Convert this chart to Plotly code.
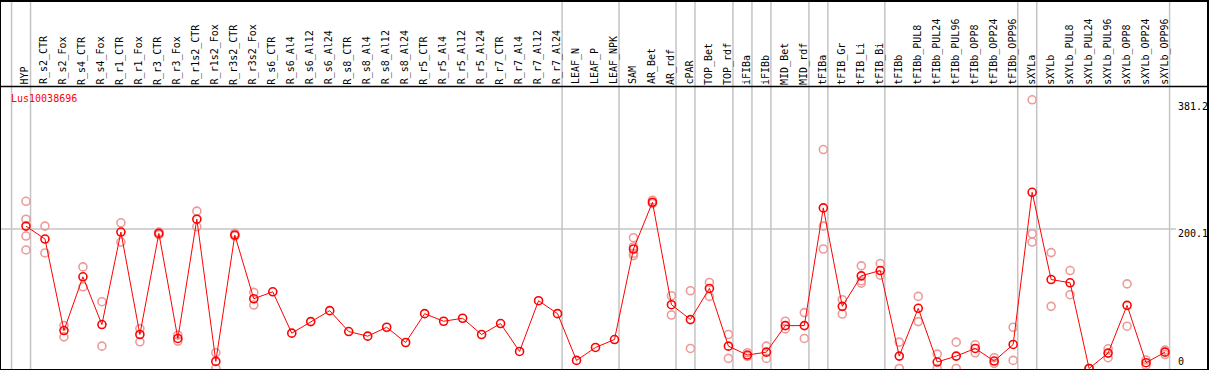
import plotly.graph_objects as go

categories = [
    "HYP", "R_s2_CTR", "R_s2_Fox", "R_s4_CTR", "R_s4_Fox", "R_r1_CTR", "R_r1_Fox",
    "R_r3_CTR", "R_r3_Fox", "R_r1s2_CTR", "R_r1s2_Fox", "R_r3s2_CTR", "R_r3s2_Fox",
    "R_s6_CTR", "R_s6_Al4", "R_s6_Al12", "R_s6_Al24", "R_s8_CTR", "R_s8_Al4",
    "R_s8_Al12", "R_s8_Al24", "R_r5_CTR", "R_r5_Al4", "R_r5_Al12", "R_r5_Al24",
    "R_r7_CTR", "R_r7_Al4", "R_r7_Al12", "R_r7_Al24", "LEAF_N", "LEAF_P", "LEAF_NPK",
    "SAM", "AR_Bet", "AR_rdf", "cPAR", "TOP_Bet", "TOP_rdf", "iFIBa", "iFIBb",
    "MID_Bet", "MID_rdf", "tFIBa", "tFIB_Gr", "tFIB_Li", "tFIB_Bi", "tFIBb",
    "tFIBb_PUL8", "tFIBb_PUL24", "tFIBb_PUL96", "tFIBb_OPP8", "tFIBb_OPP24",
    "tFIBb_OPP96", "sXYLa", "sXYLb", "sXYLb_PUL8", "sXYLb_PUL24", "sXYLb_PUL96",
    "sXYLb_OPP8", "sXYLb_OPP24", "sXYLb_OPP96",
]

mean_values = [
    204.4, 185.8, 54.5, 131.6, 63.1, 195.8, 48.8, 193.9, 43.1, 214.3, 10.2, 191.5,
    100.1, 110.1, 50.7, 67.3, 83.0, 53.0, 46.4, 59.2, 37.3, 78.7, 67.8, 72.1, 48.8,
    64.5, 24.5, 97.3, 78.7, 11.6, 30.2, 41.6, 171.5, 238.6, 91.6, 70.2, 114.9, 32.1,
    19.3, 23.5, 61.6, 61.6, 230.5, 89.2, 133.0, 140.6, 17.8, 86.4, 9.3, 17.8, 28.8,
    10.7, 34.5, 252.9, 127.7, 123.0, 0.0, 22.1, 90.6, 8.3, 23.5,
]

replicate_values = [
    [240.0, 214.3, 190.1, 170.1], [204.4, 165.8], [61.6, 45.4], [145.8, 117.3],
    [95.9, 32.1], [209.1, 181.5], [57.3, 38.3], [196.0, 192.0], [47.8, 39.3],
    [225.8, 203.4], [22.6, 0.0], [193.9, 190.1], [109.2, 91.1],
    [], [], [], [], [], [], [], [], [], [], [], [], [], [], [], [], [], [], [],
    [187.7, 174.8, 165.3, 162.0], [241.5, 237.0], [104.4, 76.8], [111.6, 28.8],
    [123.5, 103.5], [48.8, 14.5], [22.6, 17.4], [32.1, 14.5], [67.8, 56.8],
    [80.2, 43.1], [314.2, 204.4, 171.5], [98.7, 78.2], [147.3, 125.9, 122.5],
    [150.6, 133.9], [37.8, 0.0], [103.5, 67.3], [20.7, 0.0], [37.8, 0.0],
    [34.0, 22.6], [15.5, 7.4], [59.2, 11.6], [385.6, 193.4, 181.5], [166.3, 89.2],
    [140.6, 105.9], [0.0, 0.0], [28.3, 15.5], [121.5, 60.7], [12.1, 4.5], [26.4, 20.0],
]

# index of the last category of each group (-1 = before the first one)
group_ends = [-1, 0, 28, 31, 34, 35, 37, 38, 39, 41, 42, 45, 52, 53, 60]

tick_values = [0, 200.1, 381.2]
tick_labels = ["0", "200.1", "381.2"]
gene_name = "Lus10038696"

W, H = 1209, 370
ML, MR, MT, MB = 1, 1, 0, 1
plot_h = H - MT - MB
# pixel geometry
px_per_cat, x0_px = 19.0, 26.0
zero_px, px_per_unit = 368.5, 0.7006

x_lo = (ML - x0_px) / px_per_cat
x_hi = (W - MR - x0_px) / px_per_cat
y_lo = (zero_px - (MT + plot_h)) / px_per_unit
y_hi = (zero_px - MT) / px_per_unit

idx = list(range(len(categories)))

rep_x, rep_y = [], []
for i, reps in enumerate(replicate_values):
    for v in reps:
        rep_x.append(i)
        rep_y.append(v)

fig = go.Figure()
fig.add_trace(go.Scatter(
    x=rep_x, y=rep_y, mode="markers",
    marker=dict(symbol="circle-open", size=8, color="#ee9a9a", line=dict(width=1.6, color="#ee9a9a")),
    hoverinfo="skip", showlegend=False,
))
fig.add_trace(go.Scatter(
    x=idx, y=mean_values, mode="lines+markers",
    line=dict(color="#ff0000", width=1),
    marker=dict(symbol="circle-open", size=8, color="#ff0000", line=dict(width=1.6, color="#ff0000")),
    text=categories, showlegend=False,
))

def py_to_paper(py):
    return (MT + plot_h - py) / plot_h

shapes = []
for g in group_ends:
    shapes.append(dict(type="line", xref="x", yref="paper", x0=g + 0.24, x1=g + 0.24,
                       y0=0, y1=1, line=dict(color="#c4c4c4", width=1.5), layer="below"))
# middle horizontal guide line
shapes.append(dict(type="line", xref="x", yref="y", x0=x_lo, x1=(1177 - x0_px) / px_per_cat,
                   y0=tick_values[1], y1=tick_values[1], line=dict(color="#c4c4c4", width=1.5),
                   layer="below"))
# header separator
shapes.append(dict(type="line", xref="paper", yref="paper", x0=0, x1=1,
                   y0=py_to_paper(85), y1=py_to_paper(85), line=dict(color="black", width=1.5)))

annotations = []
mono = "DejaVu Sans Mono"
for i, c in enumerate(categories):
    annotations.append(dict(x=i - 0.05, y=py_to_paper(84), xref="x", yref="paper", text=c,
                            textangle=-90, xanchor="center", yanchor="bottom", showarrow=False,
                            borderpad=0, font=dict(family=mono, size=10, color="black")))
annotations.append(dict(x=(10 - ML) / (W - ML - MR), y=py_to_paper(97), xref="paper", yref="paper",
                        text=gene_name, xanchor="left", yanchor="middle", showarrow=False,
                        borderpad=0, font=dict(family=mono, size=10, color="#ff0000")))
for v, t in zip(tick_values, tick_labels):
    if v == 0:
        annotations.append(dict(x=(1178 - x0_px) / px_per_cat, y=v, xref="x", yref="y", text=t,
                                xanchor="left", yanchor="bottom", yshift=1, showarrow=False,
                                borderpad=0, font=dict(family=mono, size=10, color="black")))
    else:
        annotations.append(dict(x=(1178 - x0_px) / px_per_cat, y=v, xref="x", yref="y", text=t,
                                xanchor="left", yanchor="middle", yshift=-4, showarrow=False,
                                borderpad=0, font=dict(family=mono, size=10, color="black")))

fig.update_layout(
    width=W, height=H,
    margin=dict(l=ML, r=MR, t=MT, b=MB, pad=0),
    paper_bgcolor="white", plot_bgcolor="white",
    shapes=shapes, annotations=annotations,
    xaxis=dict(range=[x_lo, x_hi], showgrid=False, zeroline=False, showticklabels=False,
               ticks="", showline=True, mirror=True, linecolor="black", linewidth=2),
    yaxis=dict(range=[y_lo, y_hi], showgrid=False, zeroline=False, showticklabels=False,
               ticks="", showline=True, mirror=True, linecolor="black", linewidth=2),
    showlegend=False,
)

fig.write_html(
    "out.html",
    config={"displayModeBar": False},
    post_script="document.body.style.margin='0';document.body.style.padding='0';"
                "document.body.style.overflow='hidden';",
)
